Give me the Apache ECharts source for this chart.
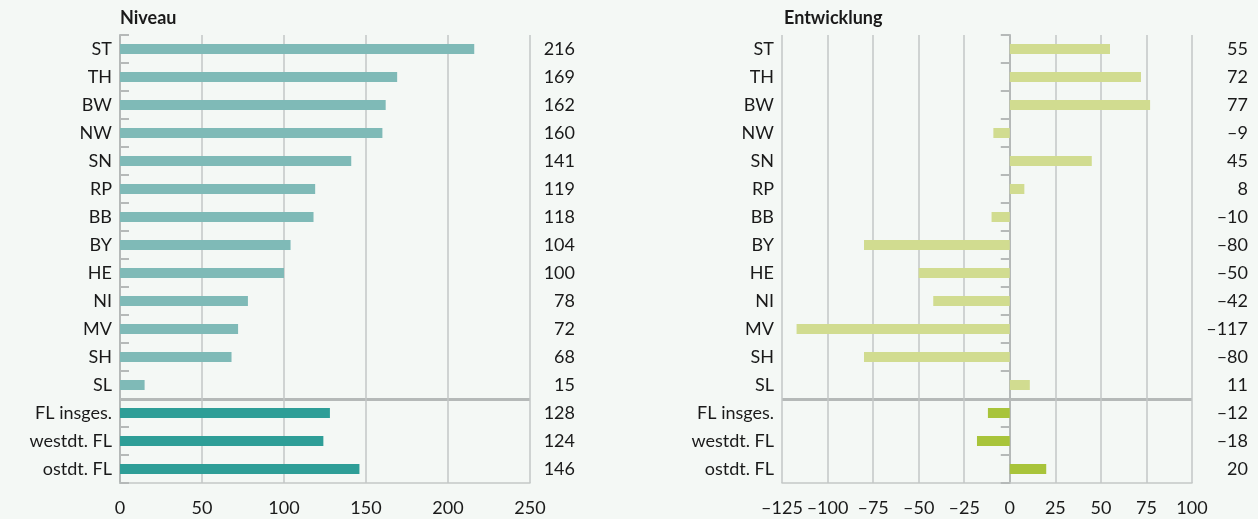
<!DOCTYPE html>
<html>
<head>
<meta charset="utf-8">
<script src="https://cdn.jsdelivr.net/npm/echarts@6/dist/echarts.min.js"></script>
<style>
  html, body { margin: 0; padding: 0; background: #f4f8f5; }
  #main { width: 1258px; height: 519px; }
</style>
</head>
<body>
<div id="main"></div>
<script>
// Kategorien (Länder + Flächenländer)
const categories = ['ST', 'TH', 'BW', 'NW', 'SN', 'RP', 'BB', 'BY', 'HE', 'NI', 'MV', 'SH', 'SL',
  'FL insges.', 'westdt. FL', 'ostdt. FL'];
// Niveau
const niveau = [216, 169, 162, 160, 141, 119, 118, 104, 100, 78, 72, 68, 15, 128, 124, 146];
// Entwicklung
const entwicklung = [55, 72, 77, -9, 45, 8, -10, -80, -50, -42, -117, -80, 11, -12, -18, 20];
const niveauTicks = [0, 50, 100, 150, 200, 250];
const entwTicks = [-125, -100, -75, -50, -25, 0, 25, 50, 75, 100];

const groupStart = 13; // ab hier FL-Summen

const fmt = v => (v < 0 ? '\u2013' + (-v) : String(v));

const gridCol = '#c3c7c6';
const axisCol = '#b5b9b8';
const txt = { color: '#1a1a1a', fontSize: 18, fontFamily: 'Lato' };

function catAxis(gridIndex, extra) {
  return Object.assign({
    type: 'category',
    gridIndex: gridIndex,
    data: categories,
    inverse: true,
    axisLine: { show: false },
    axisTick: { show: false },
    splitLine: { show: false },
    axisLabel: Object.assign({ margin: 8 }, txt)
  }, extra);
}

// Trennlinie zwischen Ländern und FL-Summen
const sepLine = {
  show: true,
  showMinLine: false,
  showMaxLine: false,
  interval: (i) => i === 0 || i === groupStart,
  lineStyle: { color: axisCol, width: 3 }
};

const titleStyle = { fontFamily: 'Lato', fontWeight: 'bold', fontSize: 18, color: '#1a1a1a' };

const option = {
  backgroundColor: '#f4f8f5',
  animation: false,
  title: [
    { text: 'Niveau', left: 120, top: 9, padding: 0, textStyle: titleStyle },
    { text: 'Entwicklung', left: 784, top: 9, padding: 0, textStyle: titleStyle }
  ],
  grid: [
    { left: 120, width: 410, top: 35, height: 448 },
    { left: 782, width: 410, top: 35, height: 448 }
  ],
  xAxis: [
    {
      type: 'value', gridIndex: 0,
      min: niveauTicks[0], max: niveauTicks[niveauTicks.length - 1], interval: 50,
      axisLine: { show: true, lineStyle: { color: gridCol, width: 1.5 } },
      axisTick: { show: false },
      splitLine: { show: true, lineStyle: { color: gridCol, width: 1.5 } },
      axisLabel: Object.assign({ margin: 16, formatter: fmt }, txt)
    },
    {
      type: 'value', gridIndex: 1,
      min: entwTicks[0], max: entwTicks[entwTicks.length - 1], interval: 25,
      axisLine: { show: true, onZero: false, lineStyle: { color: gridCol, width: 1.5 } },
      axisTick: { show: false },
      splitLine: { show: true, lineStyle: { color: gridCol, width: 1.5 } },
      axisLabel: Object.assign({ margin: 16, formatter: fmt }, txt)
    }
  ],
  yAxis: [
    // links: Beschriftung + Achse bei 0
    catAxis(0, {
      axisLine: { show: true, lineStyle: { color: axisCol, width: 2 } },
      axisTick: { show: true, inside: true, length: 9, lineStyle: { color: axisCol, width: 2 } }
    }),
    // links: Werte rechts
    catAxis(0, {
      position: 'right',
      splitLine: sepLine,
      axisLabel: Object.assign({ margin: 45, align: 'right', formatter: (v, i) => fmt(niveau[i]) }, txt)
    }),
    // rechts: Beschriftung am Rand
    catAxis(1, {
      position: 'left',
      axisLine: { show: false, onZero: false }
    }),
    // rechts: Achse bei 0
    catAxis(1, {
      position: 'left',
      axisLine: { show: true, onZero: true, lineStyle: { color: axisCol, width: 2 } },
      axisTick: { show: true, length: 9, lineStyle: { color: axisCol, width: 2 } },
      axisLabel: { show: false }
    }),
    // rechts: Werte rechts
    catAxis(1, {
      position: 'right',
      splitLine: sepLine,
      axisLabel: Object.assign({ margin: 56, align: 'right', formatter: (v, i) => fmt(entwicklung[i]) }, txt)
    })
  ],
  series: [
    {
      type: 'bar', xAxisIndex: 0, yAxisIndex: 0, barWidth: 10,
      data: niveau.map((v, i) => ({ value: v, itemStyle: { color: i >= groupStart ? '#2e9e97' : '#7fbab7' } }))
    },
    {
      type: 'bar', xAxisIndex: 1, yAxisIndex: 2, barWidth: 10,
      data: entwicklung.map((v, i) => ({ value: v, itemStyle: { color: i >= groupStart ? '#a8c43a' : '#d1dc90' } }))
    }
  ]
};

const chart = echarts.init(document.getElementById('main'), null, { renderer: 'canvas' });
chart.setOption(option);
</script>
</body>
</html>
